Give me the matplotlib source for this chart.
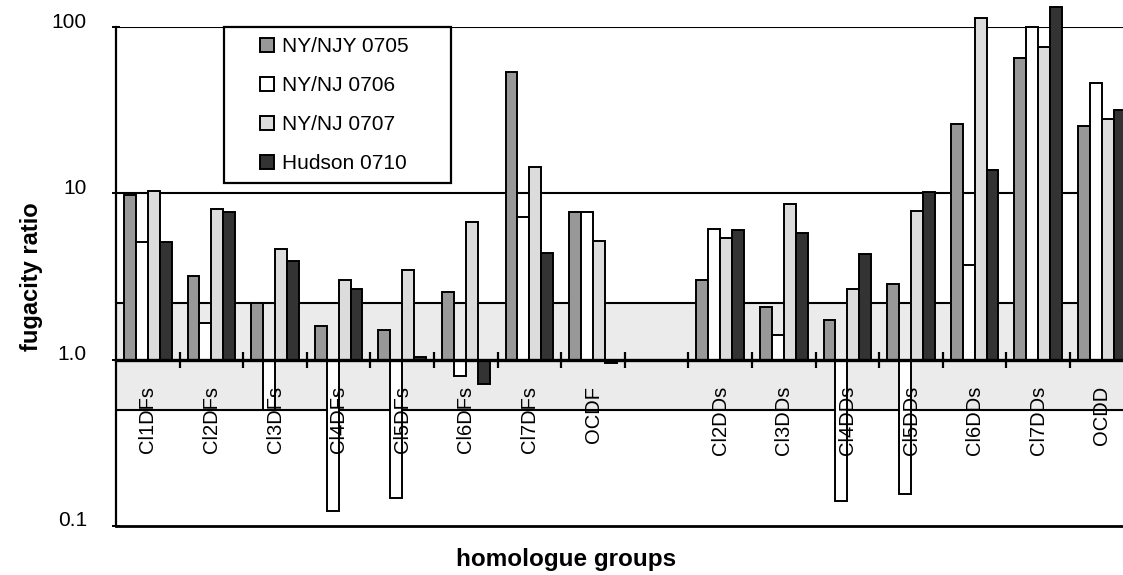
import numpy as np
import matplotlib
matplotlib.use("Agg")
import matplotlib.pyplot as plt
import matplotlib.patches as mpatches
from matplotlib.legend_handler import HandlerPatch
from matplotlib.ticker import FixedLocator, NullLocator
from matplotlib.transforms import ScaledTranslation

plt.rcParams["font.family"] = ["Liberation Sans", "DejaVu Sans"]

# homologue groups (the slot between OCDF and Cl2DDs is left empty)
groups = ["Cl1DFs", "Cl2DFs", "Cl3DFs", "Cl4DFs", "Cl5DFs", "Cl6DFs", "Cl7DFs", "OCDF",
          "Cl2DDs", "Cl3DDs", "Cl4DDs", "Cl5DDs", "Cl6DDs", "Cl7DDs", "OCDD"]
series = ["NY/NJY 0705", "NY/NJ 0706", "NY/NJ 0707", "Hudson 0710"]

ny_0705 = [9.8, 3.2, 2.2, 1.6, 1.5, 2.55, 54, 7.7,
           3.0, 2.08, 1.74, 2.85, 26, 65, 25.5]
ny_0706 = [5.1, 1.65, 0.5, 0.123, 0.146, 0.80, 7.2, 7.7,
           6.1, 1.4, 0.14, 0.156, 3.7, 100, 46]
ny_0707 = [10.3, 8.1, 4.6, 3.0, 3.45, 6.7, 14.5, 5.2,
           5.4, 8.6, 2.65, 7.8, 113, 76, 28]
hudson_0710 = [5.1, 7.7, 3.9, 2.65, 1.03, 0.71, 4.4, 0.95,
               6.0, 5.8, 4.3, 10.2, 13.8, 132, 32]

band_low, band_high = 0.5, 2.2
yticks = [0.1, 1.0, 10, 100]
ytick_labels = ["0.1", "1.0", "10", "100"]

colors = ["#989898", "#ffffff", "#dcdcdc", "#333333"]

fig = plt.figure(figsize=(11.23, 5.75), dpi=100)
W, H = 1123, 575
x0, x1, ytop, ybot = 116, 1133.6, 27.3, 525.7
ax = fig.add_axes([x0 / W, 1 - ybot / H, (x1 - x0) / W, (ybot - ytop) / H])
ax.set_yscale("log")
ax.set_ylim(0.1, 100)
ax.set_xlim(-0.5, 15.5)

pos = np.r_[0:8, 9:16]
width = 0.1875
all_vals = [ny_0705, ny_0706, ny_0707, hudson_0710]
handles = []
for i, (vals, name, c) in enumerate(zip(all_vals, series, colors)):
    v = np.asarray(vals)
    bars = ax.bar(pos + (i - 1.5) * width, v - 1, bottom=1, width=width, color=c,
                  edgecolor="black", linewidth=1.4, label=name, clip_on=False, zorder=3)
    handles.append(bars.patches[0])

# shaded band and horizontal lines
ax.axhspan(band_low, band_high, color="#ebebeb", zorder=0)
for yv in [band_low, band_high, 10, 100]:
    ax.axhline(yv, color="black", lw=1.5, zorder=1)
ax.axhline(0.1, color="black", lw=2, zorder=1, clip_on=False)

for s in ["top", "right"]:
    ax.spines[s].set_visible(False)
ax.spines["left"].set_linewidth(1.6)
ax.spines["bottom"].set_position(("data", 1))
ax.spines["bottom"].set_linewidth(2.4)
ax.spines["bottom"].set_zorder(4)

ax.xaxis.set_major_locator(FixedLocator(np.arange(0.5, 15.5, 1)))
ax.xaxis.set_major_formatter(plt.NullFormatter())
ax.xaxis.set_minor_locator(FixedLocator(pos))
ax.set_xticklabels(groups, minor=True, rotation=90, fontsize=14.5)
ax.tick_params(axis="x", which="major", direction="inout", length=11, width=1.6)
ax.tick_params(axis="x", which="minor", length=0, pad=19)
ax.xaxis.set_zorder(4.5)

ax.yaxis.set_major_locator(FixedLocator(yticks))
ax.yaxis.set_minor_locator(NullLocator())
ax.set_yticklabels(ytick_labels, fontsize=15, va="center_baseline")
ax.tick_params(axis="y", which="major", direction="inout", length=6, width=1.4, pad=18)
# the value labels sit a little above their lines
lift = ScaledTranslation(0, 7 / 100, fig.dpi_scale_trans)
for lab in ax.get_yticklabels():
    lab.set_transform(lab.get_transform() + lift)

ax.set_ylabel("fugacity ratio", fontsize=17, fontweight="bold")
ax.yaxis.set_label_coords(-0.072, 0.5)
ax.set_xlabel("homologue groups", fontsize=17.5, fontweight="bold")
ax.xaxis.set_label_coords(0.4425, -0.045)


def square(legend, orig_handle, xdescent, ydescent, width, height, fontsize):
    return mpatches.Rectangle((-xdescent + width - height, -ydescent), height, height)


leg = ax.legend(handles, series, loc="upper left",
                bbox_to_anchor=(0.1065, 0.6635, 0.2229, 0.3365),
                mode="expand", borderaxespad=0, fontsize=15, frameon=True,
                fancybox=False, framealpha=1, edgecolor="black",
                borderpad=0.48, labelspacing=0.96, handlelength=1.92,
                handleheight=0.72, handletextpad=0.38,
                handler_map={mpatches.Rectangle: HandlerPatch(patch_func=square)})
leg.get_frame().set_linewidth(1.6)
leg.set_zorder(5)

fig.savefig("out.png", dpi=100)
